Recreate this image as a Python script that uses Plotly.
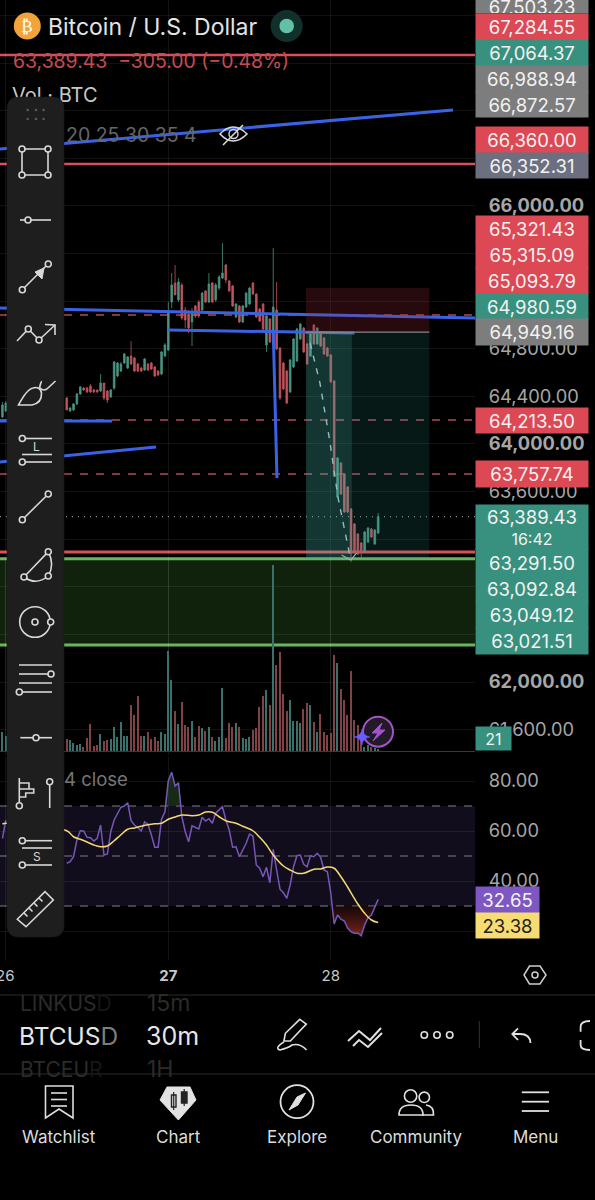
import re
import plotly.graph_objects as go

W, H = 595, 1200
PLOT_R = 475
BAR_0 = 168.3
BAR_W = 3.385
X_RANGE = [(0 - BAR_0) / BAR_W, (PLOT_R - BAR_0) / BAR_W]
XL, XR = X_RANGE

# ---------------- data ----------------
bar_index = [-49, -48] + list(range(-30, 63))
high = [64353,64361,64395,64311,64344,64428,64487,64479,64479,64504,64462,64454,64588,64512,64454,64462,64697,64689,64689,64764,64739,64865,64731,64680,64647,64722,64680,64689,64655,64622,64781,64848,
        65193,65436,65504,65394,65352,65151,65126,65142,65168,65210,65277,65294,65436,65361,65352,65420,65688,65512,65378,65336,65184,65168,65168,65277,65319,65361,65268,65142,65184,65084,65058,65646,65361,
        64815,64689,64622,64714,64890,64974,65016,64983,64848,64932,65008,64983,64932,64899,64815,64756,64538,63891,63849,63756,63647,63462,63336,63252,63177,63269,63303,63294,63286,63420]
open_ = [64227,64277,64386,64277,64286,64336,64420,64470,64470,64487,64454,64454,64445,64512,64445,64395,64470,64571,64613,64680,64638,64739,64722,64672,64638,64622,64672,64680,64647,64613,64588,64739,
         64790,65193,65352,65210,65336,65126,65092,65025,65159,65193,65126,65285,65193,65352,65210,65310,65394,65504,65369,65327,65067,65159,65025,65151,65176,65352,65260,65134,65176,64832,65050,64832,65126,
         64806,64680,64613,64437,64647,64697,64882,64974,64840,64739,65000,64840,64924,64890,64806,64748,64529,63555,63840,63748,63639,63454,63328,63244,63168,63101,63177,63286,63160,63252]
close = [64328,64344,64286,64302,64336,64420,64479,64454,64437,64437,64437,64437,64512,64386,64370,64454,64689,64680,64672,64756,64731,64672,64613,64613,64613,64714,64622,64630,64571,64580,64773,64832,
         65100,65336,65252,65361,65058,65042,64974,65109,65075,65075,65268,65193,65344,65193,65336,65403,65436,65378,65285,65159,65176,65025,65159,65268,65310,65260,65067,65033,64966,65075,64857,65151,64798,
         64386,64462,64344,64706,64882,64966,65008,64773,64672,64924,64840,64974,64823,64756,64739,64521,63731,63882,63580,63429,63429,63084,63101,63076,63093,63261,63294,63219,63277,63389]
low = [64218,64269,64286,64269,64277,64328,64412,64445,64428,64428,64428,64428,64437,64370,64344,64386,64454,64563,64605,64672,64630,64664,64605,64605,64605,64613,64613,64622,64563,64571,64580,64731,
       64781,65142,65252,65193,65042,64974,64932,64823,65058,65058,65109,65184,65184,65184,65193,65294,65386,65352,65277,65151,65058,65016,65016,65142,65168,65252,65058,65025,64958,64773,64848,64823,64790,
       64370,64454,64336,64428,64638,64689,64874,64764,64664,64731,64832,64832,64815,64748,64731,64512,63723,63546,63571,63420,63420,63009,63093,63067,63042,63093,63168,63210,63151,63244]

volume = [58,45,36,33,23,17,21,13,40,80,15,19,50,31,33,36,71,43,87,46,46,139,107,165,44,44,57,36,41,31,57,51,
          300,213,119,80,147,77,72,91,42,75,68,61,73,43,31,42,188,40,83,71,83,72,40,36,41,63,68,133,166,183,137,558,258,
          298,170,121,153,89,90,83,125,144,137,88,58,112,56,48,54,288,265,185,152,109,240,92,78,50,13,18,11,8,5]

rsi_index = [-49, -48] + list(range(-30, 63))
rsi = [57.0,64.4,47.1,47.7,49.7,56.4,60.1,60.0,57.5,57.3,56.0,57.1,62.4,50.4,50.8,59.7,64.4,67.1,69.5,70.0,71.3,64.1,62.4,61.3,60.0,63.6,62.7,58.4,53.5,53.5,64.7,67.7,
       80.1,83.5,78.0,79.3,65.7,59.7,55.7,62.1,61.3,60.8,65.5,64.0,64.9,63.1,67.1,68.4,69.7,64.4,60.4,53.5,53.7,49.7,52.4,55.1,58.8,58.0,46.4,45.1,41.7,45.5,39.3,52.7,44.4,
       36.7,35.3,33.1,38.4,45.7,50.1,50.4,46.7,45.7,50.1,49.7,51.1,49.5,44.4,43.7,35.1,22.8,26.4,24.7,24.0,21.1,19.7,19.1,19.1,18.1,22.4,25.3,26.4,29.3,32.65]
ma_index = [-49,-48,-30,-28,-26,-24,-22,-20,-18,-16,-14,-12,-10,-8,-6,-4,-2,0,2,4,7,9,11,13,15,17,20,22,25,27,29,31,34,36,38,40,43,45,47,49,51,53,56,58,60,62]
ma = [62.8,63.1,60.1,57.7,56.7,55.6,54.4,53.7,54.0,56.1,58.5,60.7,61.2,61.9,62.5,62.9,63.1,64.7,65.6,66.4,66.1,66.4,67.6,67.5,65.7,64.1,63.1,61.9,60.1,57.5,54.4,50.4,46.0,44.4,43.1,43.1,44.7,44.8,45.6,45.1,41.7,37.5,30.8,27.1,24.4,23.38]

price_ticks = list(range(61600, 67601, 400))
visible_ticks = [61600, 62000, 63600, 64000, 64400, 64800, 66000]
bold_ticks = [62000, 64000, 66000]
rsi_ticks = [20, 40, 60, 80]
rsi_visible = [40, 60, 80]
day_ticks = [0, 48]
day_labels = ["<b>27</b>", "28"]

# drawings: (x in bars, price)
blue_x = [[XL, 84.1], [XL, XR], [0, 55], [31, 32.1], [XL, -16.6], [XL, -3.6]]
blue_y = [[66478, 66806], [65142, 65058], [64958, 64932], [64958, 63714], [64193, 64193], [63849, 63975]]
solid_red = [(67268, 2.5), (66352, 2.5), (63093, 3)]
dashed_red = [65084, 64201, 63748]
last_price = 63389.43
zone_top, zone_bot = 63035, 62311
stop_top, entry, target = 65310, 64940, 63026
trade_x = [40.7, 77.1, 54.2]
path_x = [41.9, 44.8, 47.8, 50.1, 53.9]
path_y = [64848, 64512, 64008, 63555, 63026]
head_x = [51.2, 53.9, 55.6]
head_y = [63068, 63026, 63084]

RED, GREEN, GREY, SLATE = "#dc4853", "#38917f", "#7d7d7d", "#6c6f7f"
price_labels = [
    ("67,503.23", 0, 13, GREY), ("67,284.55", 14, 40, RED), ("67,064.37", 40, 66, GREEN),
    ("66,988.94", 66, 92, GREY), ("66,872.57", 92, 117, GREY), ("66,360.00", 127, 153, RED),
    ("66,352.31", 153, 178, SLATE), ("65,321.43", 216, 242, RED), ("65,315.09", 242, 268, RED),
    ("65,093.79", 268, 294, RED), ("64,980.59", 294, 319, GREEN), ("64,949.16", 319, 345, GREY),
    ("64,213.50", 408, 433, RED), ("63,757.74", 461, 487, RED), ("63,389.43", 505, 528, GREEN),
    ("16:42", 528, 549, GREEN), ("63,291.50", 549, 576, GREEN), ("63,092.84", 576, 602, GREEN),
    ("63,049.12", 602, 628, GREEN), ("63,021.51", 628, 654, GREEN),
]
nav_labels = [("Watchlist", 59), ("Chart", 178), ("Explore", 297), ("Community", 416), ("Menu", 535)]

# ---------------- helpers ----------------
FONT = "Inter"
def px(x): return x / W
def py(y): return 1 - y / H

def pth(s, color="#d8d8d8", width=1.6, fill=None):
    toks = s.split()
    out, is_x = [], True
    for t in toks:
        if re.fullmatch(r"[A-Za-z]", t):
            out.append(t); is_x = True
        else:
            v = float(t)
            out.append(f"{px(v):.5f}" if is_x else f"{py(v):.5f}")
            is_x = not is_x
    return dict(type="path", xref="paper", yref="paper", path=" ".join(out), layer="above",
                line=dict(color=color, width=width), fillcolor=fill or "rgba(0,0,0,0)")

def circ(cx, cy, r, color="#d8d8d8", width=1.6, fill="#1e1e1e"):
    return dict(type="circle", xref="paper", yref="paper", x0=px(cx - r), x1=px(cx + r),
                y0=py(cy + r), y1=py(cy - r), layer="above",
                line=dict(color=color, width=width), fillcolor=fill)

def txt(s, x, y, size=16, color="#ddd", anchor="left", **kw):
    return dict(text=s, x=px(x), y=py(y), xref="paper", yref="paper", xanchor=anchor, yanchor="middle",
                showarrow=False, font=dict(family=kw.pop("family", FONT), size=size, color=color), **kw)

def box(s, y0, y1, color, x0=PLOT_R, x1=587, tc="#f2f2f2", size=18.5):
    return dict(text=s, x=px(x0), y=py((y0 + y1) / 2), xref="paper", yref="paper", xanchor="left",
                yanchor="middle", showarrow=False, width=x1 - x0, height=y1 - y0, bgcolor=color,
                align="center", valign="middle", borderpad=0, font=dict(family=FONT, size=size, color=tc))

# ---------------- figure ----------------
fig = go.Figure()
fig.add_trace(go.Candlestick(
    x=bar_index, open=open_, high=high, low=low, close=close, xaxis="x", yaxis="y", whiskerwidth=0,
    increasing=dict(line=dict(color="#4a9483", width=0.8), fillcolor="#4a9483"),
    decreasing=dict(line=dict(color="#c0545c", width=0.8), fillcolor="#c0545c"),
    hoverinfo="skip", showlegend=False))
for bx, by in zip(blue_x, blue_y):
    fig.add_trace(go.Scatter(x=bx, y=by, mode="lines", line=dict(color="#3a62e4", width=3),
                             hoverinfo="skip", showlegend=False, xaxis="x", yaxis="y"))
fig.add_trace(go.Scatter(x=path_x, y=path_y, mode="lines", line=dict(color="#b4c4c0", width=1.4, dash="6px,7px"),
                         hoverinfo="skip", showlegend=False))
fig.add_trace(go.Scatter(x=head_x, y=head_y, mode="lines", line=dict(color="#a8b8b4", width=1.2),
                         hoverinfo="skip", showlegend=False))
fig.add_trace(go.Scatter(x=[(12 - BAR_0) / BAR_W], y=[66915], mode="text", text=["Vol · BTC"],
                         textposition="middle right", textfont=dict(family=FONT, size=20, color="#c8c8c8"),
                         cliponaxis=False, hoverinfo="skip", showlegend=False))

vol_colors = ["#39716d" if c >= o else "#804345" for o, c in zip(open_, close)]
fig.add_trace(go.Bar(x=bar_index, y=volume, marker=dict(color=vol_colors, line=dict(width=0)), width=0.42,
                     xaxis="x", yaxis="y2", hoverinfo="skip", showlegend=False))

# RSI fills
ob_x = [i for i in rsi_index if -2 <= i <= 4]
ob_v = [max(v, 70) for i, v in zip(rsi_index, rsi) if -2 <= i <= 4]
os_x = [i for i in rsi_index if 48 <= i <= 61]
os_v = [min(v, 30) for i, v in zip(rsi_index, rsi) if 48 <= i <= 61]
fig.add_trace(go.Scatter(x=ob_x, y=[70] * len(ob_x), mode="lines", line=dict(width=0), yaxis="y3",
                         hoverinfo="skip", showlegend=False))
fig.add_trace(go.Scatter(x=ob_x, y=ob_v, mode="lines", line=dict(width=0), yaxis="y3", fill="tonexty",
                         fillcolor="rgba(50,90,50,0.45)", hoverinfo="skip", showlegend=False))
fig.add_trace(go.Scatter(x=os_x, y=[30] * len(os_x), mode="lines", line=dict(width=0), yaxis="y3",
                         hoverinfo="skip", showlegend=False))
fig.add_trace(go.Scatter(x=os_x, y=os_v, mode="lines", line=dict(width=0), yaxis="y3", fill="tonexty",
                         fillgradient=dict(type="vertical", colorscale=[[0, "rgba(150,45,35,0.85)"], [1, "rgba(60,20,20,0.4)"]]),
                         hoverinfo="skip", showlegend=False))
fig.add_trace(go.Scatter(x=rsi_index[:2], y=rsi[:2], mode="lines", line=dict(color="#7657b8", width=1.5),
                         yaxis="y3", hoverinfo="skip", showlegend=False))
fig.add_trace(go.Scatter(x=rsi_index[2:], y=rsi[2:], mode="lines", line=dict(color="#7657b8", width=1.5),
                         yaxis="y3", hoverinfo="skip", showlegend=False))
fig.add_trace(go.Scatter(x=ma_index, y=ma, mode="lines", line=dict(color="#f4d972", width=1.5, shape="spline"),
                         yaxis="y3", hoverinfo="skip", showlegend=False))

shapes = []
def data_rect(x0, x1, y0, y1, fill, yref="y", layer="below"):
    shapes.append(dict(type="rect", xref="x", yref=yref, x0=x0, x1=x1, y0=y0, y1=y1, layer=layer,
                       fillcolor=fill, line=dict(width=0)))
def data_line(x0, x1, y0, y1, color, width, dash="solid", yref="y", layer="below"):
    shapes.append(dict(type="line", xref="x", yref=yref, x0=x0, x1=x1, y0=y0, y1=y1, layer=layer,
                       line=dict(color=color, width=width, dash=dash)))

data_rect(XL, XR, zone_bot, zone_top, "#10220c")
data_line(XL, XR, zone_top, zone_top, "#6cb560", 3)
data_line(XL, XR, zone_bot, zone_bot, "#6cb560", 3)
for val, wd in solid_red:
    data_line(XL, XR, val, val, "#d9505a", wd)
for val in dashed_red:
    data_line(XL, XR, val, val, "#b04a52", 1.6, dash="8px,8px")
data_line(XL, XR, last_price, last_price, "#8a8a8a", 1.2, dash="1px,5px")
data_rect(XL, XR, 30, 70, "#120d1c", yref="y3")
for lv in (70, 50, 30):
    data_line(XL, XR, lv, lv, "#7f7f85", 1.2, dash="8px,8px", yref="y3")
data_rect(trade_x[0], trade_x[1], entry, stop_top, "rgba(165,45,55,0.23)", layer="above")
data_rect(trade_x[0], trade_x[1], target, entry, "rgba(38,166,154,0.15)", layer="above")
data_rect(trade_x[0], trade_x[2], target, entry, "rgba(90,190,175,0.18)", layer="above")
data_line(trade_x[0], trade_x[1], entry, entry, "#8a8a86", 1.2, layer="above")

# UI separators
shapes += [pth("M 0 995 L 595 995", "#2b2b2b", 1), pth("M 0 1074 L 595 1074", "#2b2b2b", 1)]

# toolbar panel
shapes.append(pth("M 19 97 L 52 97 Q 64 97 64 109 L 64 925 Q 64 937 52 937 L 19 937 Q 7 937 7 925 L 7 109 Q 7 97 19 97 Z",
                  "#1e1e1e", 0.5, "#1e1e1e"))
for dx in (27.7, 36, 43.6):
    for dy in (110, 119):
        shapes.append(circ(dx, dy, 1.3, "#5a5a5a", 0, "#5a5a5a"))
# rectangle
shapes.append(pth("M 22 149 L 48 149 L 48 175 L 22 175 Z"))
for cx, cy in [(22, 149), (48, 149), (48, 175), (22, 175)]:
    shapes.append(circ(cx, cy, 3))
# line
shapes.append(pth("M 20 220 L 51 220")); shapes.append(circ(28, 220, 3))
# arrow
shapes.append(pth("M 22 290 L 48 264"))
shapes.append(pth("M 44 268 L 35 272 L 42 279 Z", "#d8d8d8", 1, "#d8d8d8"))
shapes += [circ(22.3, 289.7, 3), circ(48.3, 264, 3)]
# polyline arrow
shapes.append(pth("M 17 341 L 28.3 329 L 39 340 L 55 325"))
shapes.append(pth("M 45 324.5 L 55 325 L 55 335"))
shapes += [circ(28.3, 329, 3), circ(39, 340, 3)]
# brush
shapes.append(pth("M 18.5 405 L 32 405 Q 42 403 41.5 393 Q 40 386 33 388 Q 27 389 18.5 405 Z"))
shapes.append(pth("M 39.5 388 Q 41 381 42 381.5 M 40 388 Q 44 392 48 388 L 55.5 381"))
# L
shapes.append(pth("M 22 438.5 L 52 438.5")); shapes.append(circ(22.3, 438.5, 3))
shapes.append(pth("M 22 454.5 L 52 454.5"))
shapes.append(pth("M 22 462 L 52 462")); shapes.append(circ(22.3, 462, 3))
# trend line
shapes.append(pth("M 22.3 519.7 L 48.3 494")); shapes += [circ(22.3, 519.7, 3), circ(48.3, 494, 3)]
# arc triangle
shapes.append(pth("M 24 577 L 48.3 551.7 Q 55 565 48.3 576 Q 36 586 24 577"))
shapes += [circ(24, 577, 3), circ(48.3, 576, 3), circ(48.3, 551.7, 3)]
# circle
shapes.append(circ(35, 622, 15.3))
shapes += [circ(35, 622, 3), circ(50.7, 622, 3)]
# parallel lines
shapes += [pth("M 19 665 L 52 665"), pth("M 19 674 L 48 674"), pth("M 19 683 L 52 683"), pth("M 21 692 L 52 692")]
shapes += [circ(51, 674, 3), circ(19.3, 692, 3)]
# slider
shapes.append(pth("M 20.3 737.7 L 52 737.7")); shapes.append(circ(36, 737.7, 3))
# forecast
shapes.append(pth("M 19.3 778 L 19.3 803 M 19.3 783 L 29 783 L 29 789 L 33.7 789 L 33.7 793 L 25.7 793 L 25.7 797 L 19.3 797 M 19.3 789 L 29 789"))
shapes.append(circ(19.3, 805.7, 3))
shapes.append(pth("M 49.7 782 L 49.7 808")); shapes.append(circ(49.7, 781.7, 3))
# S
shapes += [pth("M 22 840.7 L 52 840.7"), pth("M 22 848 L 52 848"), pth("M 22 865 L 52 865")]
shapes += [circ(22.3, 840.7, 3), circ(22.3, 865, 3)]
# ruler
shapes.append(pth("M 17.3 919.3 L 45 891.7 L 53.3 900 L 26 926.7 Z"))
shapes.append(pth("M 24 913 L 27.5 916.5 M 29 908 L 32.5 911.5 M 34 903 L 37.5 906.5 M 39 898 L 42.5 901.5"))

# eye off, coin and status dot
shapes.append(pth("M 220 134 Q 233 120 247 134 Q 233 148 220 134 Z"))
shapes.append(circ(233.5, 134, 4.5, "#d8d8d8", 1.4, "rgba(0,0,0,0)"))
shapes.append(pth("M 223 145 L 243 125", "#d8d8d8", 1.6))
shapes.append(circ(27.3, 26, 13.5, "#f2a33a", 0, "#f2a33a"))
shapes.append(circ(286.7, 26, 16, "#12302b", 0, "#12302b"))
shapes.append(circ(286.7, 26, 7.3, "#62c0a5", 0, "#62c0a5"))
# assistant badges
shapes.append(circ(378, 731.7, 15, "#a155c9", 2, "#221a26"))
shapes.append(pth("M 382 723 L 372 733 L 378 733 L 373 741 L 385 730 L 379 730 Z", "#a155c9", 1, "#a155c9"))
shapes.append(pth("M 362 729 Q 363 736 370 737 Q 363 738 362 745 Q 361 738 354 737 Q 361 736 362 729 Z", "#6a5cff", 0.5, "#6a5cff"))
# hexagon
shapes.append(pth("M 524 975 L 529.5 966 L 540 966 L 546 975 L 540 984 L 529.5 984 Z", "#cfcfcf", 1.5))
shapes.append(circ(535, 975, 3, "#cfcfcf", 1.5, "#000"))
# bottom bar
shapes.append(pth("M 299.8 1019.3 L 306.3 1024 L 290.3 1041 L 283.9 1041 L 285.4 1033.3 Z", "#e0e0e0", 1.6))
shapes.append(pth("M 284 1042 Q 274 1048 280 1050 Q 288 1048 292 1045 Q 300 1043 306.6 1050", "#e0e0e0", 1.6))
shapes.append(pth("M 348 1041 L 359 1031 L 370 1040 L 381 1028", "#e0e0e0", 2))
shapes.append(pth("M 353 1046 L 359 1040 L 368 1047 L 382 1033", "#e0e0e0", 2))
for cx in (424.3, 437, 449.7):
    shapes.append(circ(cx, 1035, 3.2, "#e0e0e0", 1.6, "#000"))
shapes.append(pth("M 479.3 1021 L 479.3 1048", "#333", 1))
shapes.append(pth("M 530.5 1043 Q 530 1034 520 1034 L 512.3 1034 M 518 1028.3 L 512.3 1034 L 518 1040", "#e0e0e0", 1.8))
shapes.append(pth("M 590 1021 Q 580.6 1021 580.6 1027 L 580.6 1031.7 M 580.6 1040 L 580.6 1045 Q 580.6 1050 590 1050", "#e0e0e0", 1.8))
# nav icons
shapes.append(pth("M 45.5 1086 L 73 1086 L 73 1118 L 59 1109 L 45.5 1118 Z", "#dedede", 1.6))
shapes += [pth(f"M 51 {v} L 67 {v}", "#dedede", 1.6) for v in (1093, 1099.5, 1106)]
shapes.append(pth("M 167 1087 L 190 1087 L 196 1100 L 178.4 1120 L 160 1100 Z", "#e3e3e3", 1, "#e3e3e3"))
shapes.append(pth("M 171.5 1095 L 176 1095 L 176 1107 L 171.5 1107 Z", "#222", 1.4))
shapes.append(pth("M 173.7 1092 L 173.7 1110 M 184.2 1089 L 184.2 1106", "#222", 1.2))
shapes.append(pth("M 181.5 1092 L 187 1092 L 187 1103 L 181.5 1103 Z", "#222", 1.4, "#222"))
shapes.append(circ(297, 1101.7, 16.5, "#e0e0e0", 1.8, "#000"))
shapes.append(pth("M 305.5 1093 L 297 1097 L 289 1110 L 298 1105 Z", "#e0e0e0", 1, "#e0e0e0"))
shapes.append(circ(410.6, 1096, 6.2, "#e0e0e0", 1.6, "#000"))
shapes.append(circ(424.3, 1097.3, 5.2, "#e0e0e0", 1.6, "#000"))
shapes.append(pth("M 426 1105 Q 434 1106 433.5 1115 L 422 1115", "#e0e0e0", 1.6))
shapes.append(pth("M 399 1115 Q 399 1105 411 1105 Q 423 1105 423 1115 Z", "#e0e0e0", 1.6, "#000"))
shapes += [pth(f"M 521.8 {v} L 549 {v}", "#e0e0e0", 1.8) for v in (1092.3, 1101.7, 1111)]

annotations = []
for s, y0, y1, c in price_labels:
    annotations.append(box(s, y0, y1, c, size=16 if s == "16:42" else 18.5))
annotations.append(box("21", 727, 750, GREEN, x1=510, size=16))
annotations.append(box("32.65", 887, 913, "#7e57c2", x1=538))
annotations.append(box("23.38", 913, 938, "#f6dc72", x1=538, tc="#222"))
annotations += [
    txt("Bitcoin / U.S. Dollar", 46, 27, 23, "#e4e4e4"),
    txt("63,389.43  −305.00 (−0.48%)", 11, 61, 19.4, "#c24c52"),
    txt("20 25 30 35 4", 64, 135, 19.5, "#666666"),
    txt("4 close", 62, 779, 18.5, "#767676"),
    txt("26", 5, 975, 15, "#c8c8c8", "center"),
    txt("₿", 27.3, 26, 17, "#ffffff", "center", family="DejaVu Sans"),
    txt("L", 36.7, 446.5, 12, "#d8d8d8", "center"),
    txt("S", 36.7, 856.7, 12, "#d8d8d8", "center"),
    txt('LINKUS<span style="color:#161616">D</span>', 18, 1003, 21, "#2b2b2b"),
    txt("15m", 145, 1003, 23, "#2b2b2b"),
    txt('BTCUS<span style="color:#7d7d7d">D</span>', 17, 1036, 24.5, "#e6e6e6"),
    txt("30m", 144, 1036, 25, "#e6e6e6"),
    txt('BTCEU<span style="color:#161616">R</span>', 18, 1069, 21, "#2b2b2b"),
    txt("1H", 145, 1069, 23, "#2b2b2b"),
]
for name, cx in nav_labels:
    annotations.append(txt(name, cx, 1137, 17, "#dcdcdc", "center"))

GRID = "rgba(255,255,255,0.07)"
price_text = [(f"<b>{v:,.2f}</b>" if v in bold_ticks else f"{v:,.2f}") if v in visible_ticks else "" for v in price_ticks]
fig.update_layout(
    width=W, height=H, margin=dict(l=0, r=0, t=0, b=0), autosize=False,
    paper_bgcolor="#000000", plot_bgcolor="rgba(0,0,0,0)", showlegend=False, bargap=0,
    font=dict(family=FONT, color="#aaaaaa"), shapes=shapes, annotations=annotations, hovermode=False,
    xaxis=dict(domain=[0, PLOT_R / W], range=X_RANGE, anchor="y3", tickmode="array", tickvals=[-48] + day_ticks,
               ticktext=[""] + day_labels, tickfont=dict(family=FONT, size=15, color="#c8c8c8"), showgrid=True,
               gridcolor=GRID, gridwidth=1, zeroline=False, showline=False, ticks="outside", ticklen=2,
               tickcolor="rgba(0,0,0,0)", rangeslider=dict(visible=False), fixedrange=True),
    yaxis=dict(domain=[py(755), 1], range=[61387, 67730], side="right", anchor="x", tickmode="array",
               tickvals=price_ticks, ticktext=price_text, tickfont=dict(family=FONT, size=18.3, color="#a6a6a6"),
               showgrid=True, gridcolor=GRID, zeroline=False, showline=False, ticks="outside", ticklen=9,
               tickcolor="rgba(0,0,0,0)", fixedrange=True),
    yaxis2=dict(domain=[py(751), py(560)], range=[0, 573], anchor="x", side="right", showticklabels=False,
                showgrid=False, zeroline=True, zerolinecolor="#3a3a3a", zerolinewidth=1, fixedrange=True),
    yaxis3=dict(domain=[py(960), py(757)], range=[8.4, 89.6], anchor="x", side="right", tickmode="array",
                tickvals=rsi_ticks, ticktext=[f"{v:.2f}" if v in rsi_visible else "" for v in rsi_ticks],
                tickfont=dict(family=FONT, size=18.3, color="#a6a6a6"), showgrid=True, gridcolor=GRID,
                zeroline=False, showline=False, ticks="outside", ticklen=9, tickcolor="rgba(0,0,0,0)",
                fixedrange=True),
)
fig.write_html("out.html", config={"displayModeBar": False},
               post_script="document.body.style.margin='0';document.body.style.background='#000';")
